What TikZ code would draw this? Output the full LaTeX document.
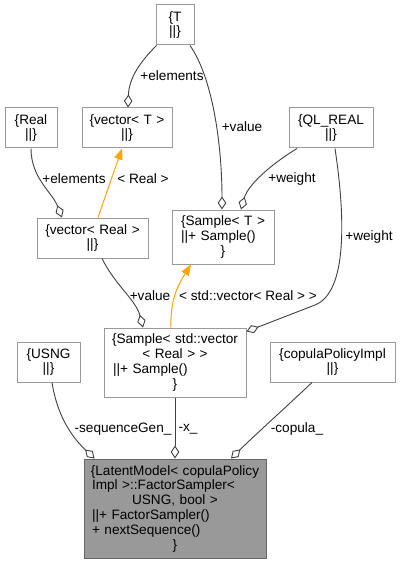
\documentclass[tikz,border=0pt]{standalone}
\usepackage{fontspec}
\setmainfont{Liberation Sans}
\usetikzlibrary{arrows.meta}
\setlength\parindent{0pt}
\newcommand\cln[1]{\makebox[\hsize][c]{#1}}
\newcommand\lft[1]{\makebox[\hsize][l]{#1}}
\definecolor{edgegray}{HTML}{404040}
\definecolor{boxgray}{HTML}{999999}
\definecolor{boxdark}{HTML}{666666}
\definecolor{tplorange}{HTML}{FFA500}
\tikzset{
  txt/.style={font=\fontsize{13.6}{14.8}\selectfont},
  cls/.style={txt, draw=boxgray, line width=1pt, fill=white, inner xsep=9pt, inner ysep=1pt, align=left},
  hl/.style={cls, fill=boxgray, draw=boxdark},
  member/.style={draw=edgegray, line width=0.9pt, -{Diamond[open,length=13pt,width=8.5pt]}},
  tmpl/.style={draw=tplorange, line width=1pt, -{Triangle[length=11pt,width=8.5pt]}},
  lbl/.style={txt, inner sep=0pt}
}
\begin{document}
\begin{tikzpicture}[x=1pt,y=-1pt]
\useasboundingbox (0,0) rectangle (400,564);
% boxes
\node[cls, text width=20pt, minimum height=40pt] (T) at (175,25) {\cln{\{T}\\\cln{||\}}};
\node[cls, text width=34pt, minimum height=40pt] (Real) at (31,128) {\cln{\{Real}\\\cln{||\}}};
\node[cls, text width=72pt, minimum height=40pt] (vT) at (127,128) {\cln{\{vector< T >}\\\cln{||\}}};
\node[cls, text width=66pt, minimum height=40pt] (QL) at (331,128) {\cln{\{QL\_REAL}\\\cln{||\}}};
\node[cls, text width=93pt, minimum height=40pt] (vR) at (92.5,238) {\cln{\{vector< Real >}\\\cln{||\}}};
\node[cls, text width=84pt, minimum height=54pt] (ST) at (223,237) {\cln{\{Sample< T >}\\\lft{||+ Sample()}\\\cln{\}}};
\node[cls, text width=124pt, minimum height=69pt] (SV) at (175,362.5) {\cln{\{Sample< std::vector}\\\cln{< Real > >}\\\lft{||+ Sample()}\\\cln{\}}};
\node[cls, text width=45pt, minimum height=40pt] (USNG) at (48.5,362) {\cln{\{USNG}\\\cln{||\}}};
\node[cls, text width=107pt, minimum height=40pt] (cop) at (332.5,362) {\cln{\{copulaPolicyImpl}\\\cln{||\}}};
\node[hl, text width=166pt, inner xsep=8pt, minimum height=99pt] (LM) at (175,508.5) {\cln{\{LatentModel< copulaPolicy}\\\lft{Impl >::FactorSampler<}\\\cln{USNG, bool >}\\\lft{||+ FactorSampler()}\\\lft{+ nextSequence()}\\\cln{\}}};
% connectors
\draw[member] ([xshift=1pt]T.south west) .. controls (140,62) and (129,78) .. ([xshift=1pt]vT.north);
\node[lbl] (l1) at (172,76) {+elements};
\draw[member] ([xshift=15pt]T.south) .. controls (214,80) and (222,150) .. ([xshift=-1pt]ST.north);
\node[lbl] (l2) at (242,127) {+value};
\draw[member] (Real.south) .. controls (31,178) and (52,192) .. ([xshift=-30.5pt]vR.north);
\node[lbl] (l3) at (74,179) {+elements};
\draw[tmpl] ([xshift=5.5pt]vR.north) -- ([xshift=-5pt]vT.south);
\node[lbl] (l4) at (143,179) {< Real >};
\draw[member] ([xshift=-34pt]QL.south) .. controls (270,165) and (248,185) .. ([xshift=18pt]ST.north);
\node[lbl] (l5) at (292,179) {+weight};
\draw[member] ([xshift=4pt]QL.south) .. controls (345,215) and (348,292) .. (315,305) -- ([yshift=-4pt]SV.north east);
\node[lbl] (l6) at (369,237) {+weight};
\draw[member] ([xshift=9.5pt]vR.south) .. controls (115,285) and (136,300) .. ([xshift=-32pt]SV.north);
\node[lbl] (l7) at (150,296) {+value};
\draw[tmpl] ([xshift=-4pt]SV.north) .. controls (170,300) and (178,285) .. ([xshift=-32pt]ST.south);
\node[lbl] (l8) at (248,296) {< std::vector< Real > >};
\draw[member] ([xshift=3.5pt]USNG.south) .. controls (58,420) and (75,440) .. ([xshift=11pt]LM.north west);
\node[lbl] (l9) at (123,429) {-sequenceGen\_};
\draw[member] (SV.south) -- (LM.north);
\node[lbl] (l10) at (188,429) {-x\_};
\draw[member] ([xshift=-20.5pt]cop.south) .. controls (285,408) and (255,435) .. ([xshift=56pt]LM.north);
\node[lbl] (l11) at (297,429) {-copula\_};
\end{tikzpicture}
\end{document}
